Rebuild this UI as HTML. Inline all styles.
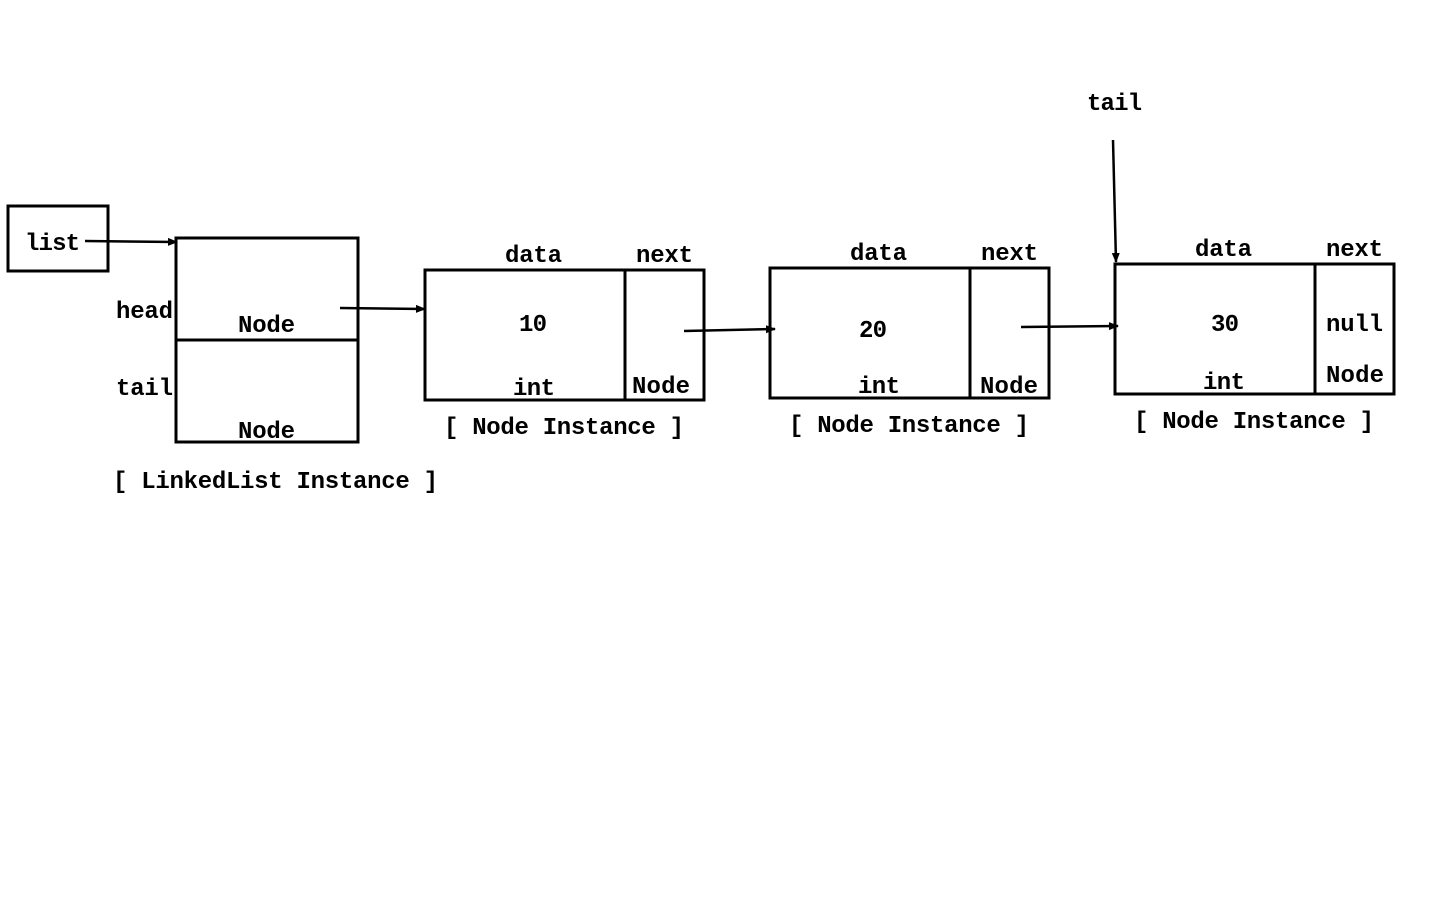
<!DOCTYPE html>
<html><head><meta charset="utf-8"><style>html,body{margin:0;padding:0;background:#fff;}</style></head>
<body>
<svg width="1440" height="900" viewBox="0 0 1440 900" xmlns="http://www.w3.org/2000/svg">
<defs><marker id="a" markerWidth="10" markerHeight="10" refX="9" refY="5" orient="auto" markerUnits="userSpaceOnUse"><path d="M0,1 L10,5 L0,9 z" fill="#000"/></marker></defs>
<g fill="none" stroke="#000" stroke-width="3">
<rect x="8" y="206" width="100" height="65"/>
<rect x="176" y="238" width="182" height="204"/>
<line x1="176" y1="340" x2="358" y2="340"/>
<rect x="425" y="270" width="279" height="130"/>
<line x1="625" y1="270" x2="625" y2="400"/>
<rect x="770" y="268" width="279" height="130"/>
<line x1="970" y1="268" x2="970" y2="398"/>
<rect x="1115" y="264" width="279" height="130"/>
<line x1="1315" y1="264" x2="1315" y2="394"/>
</g>
<g stroke="#000" stroke-width="2.5" marker-end="url(#a)">
<line x1="85" y1="241" x2="177" y2="242"/>
<line x1="340" y1="308" x2="425" y2="309"/>
<line x1="684" y1="331" x2="775" y2="329"/>
<line x1="1021" y1="327" x2="1118" y2="326"/>
<line x1="1113" y1="140" x2="1116" y2="262"/>
</g>
<g font-family="Liberation Mono, monospace" font-weight="bold" font-size="24" fill="#000">
<text x="25" y="250" textLength="55">list</text>
<text x="116" y="318" textLength="57">head</text>
<text x="116" y="395" textLength="57">tail</text>
<text x="238" y="332" textLength="57">Node</text>
<text x="238" y="438" textLength="57">Node</text>
<text x="113" y="488" textLength="325">[ LinkedList Instance ]</text>
<text x="505" y="262" textLength="57">data</text>
<text x="636" y="262" textLength="57">next</text>
<text x="519" y="331" textLength="28">10</text>
<text x="513" y="395" textLength="42">int</text>
<text x="632" y="393" textLength="58">Node</text>
<text x="444" y="434" textLength="240">[ Node Instance ]</text>
<text x="850" y="260" textLength="57">data</text>
<text x="981" y="260" textLength="57">next</text>
<text x="859" y="337" textLength="28">20</text>
<text x="858" y="393" textLength="42">int</text>
<text x="980" y="393" textLength="58">Node</text>
<text x="789" y="432" textLength="240">[ Node Instance ]</text>
<text x="1195" y="256" textLength="57">data</text>
<text x="1326" y="256" textLength="57">next</text>
<text x="1211" y="331" textLength="28">30</text>
<text x="1203" y="389" textLength="42">int</text>
<text x="1326" y="331" textLength="57">null</text>
<text x="1326" y="382" textLength="58">Node</text>
<text x="1134" y="428" textLength="240">[ Node Instance ]</text>
<text x="1087" y="110" textLength="55">tail</text>
</g>
</svg>
</body></html>
